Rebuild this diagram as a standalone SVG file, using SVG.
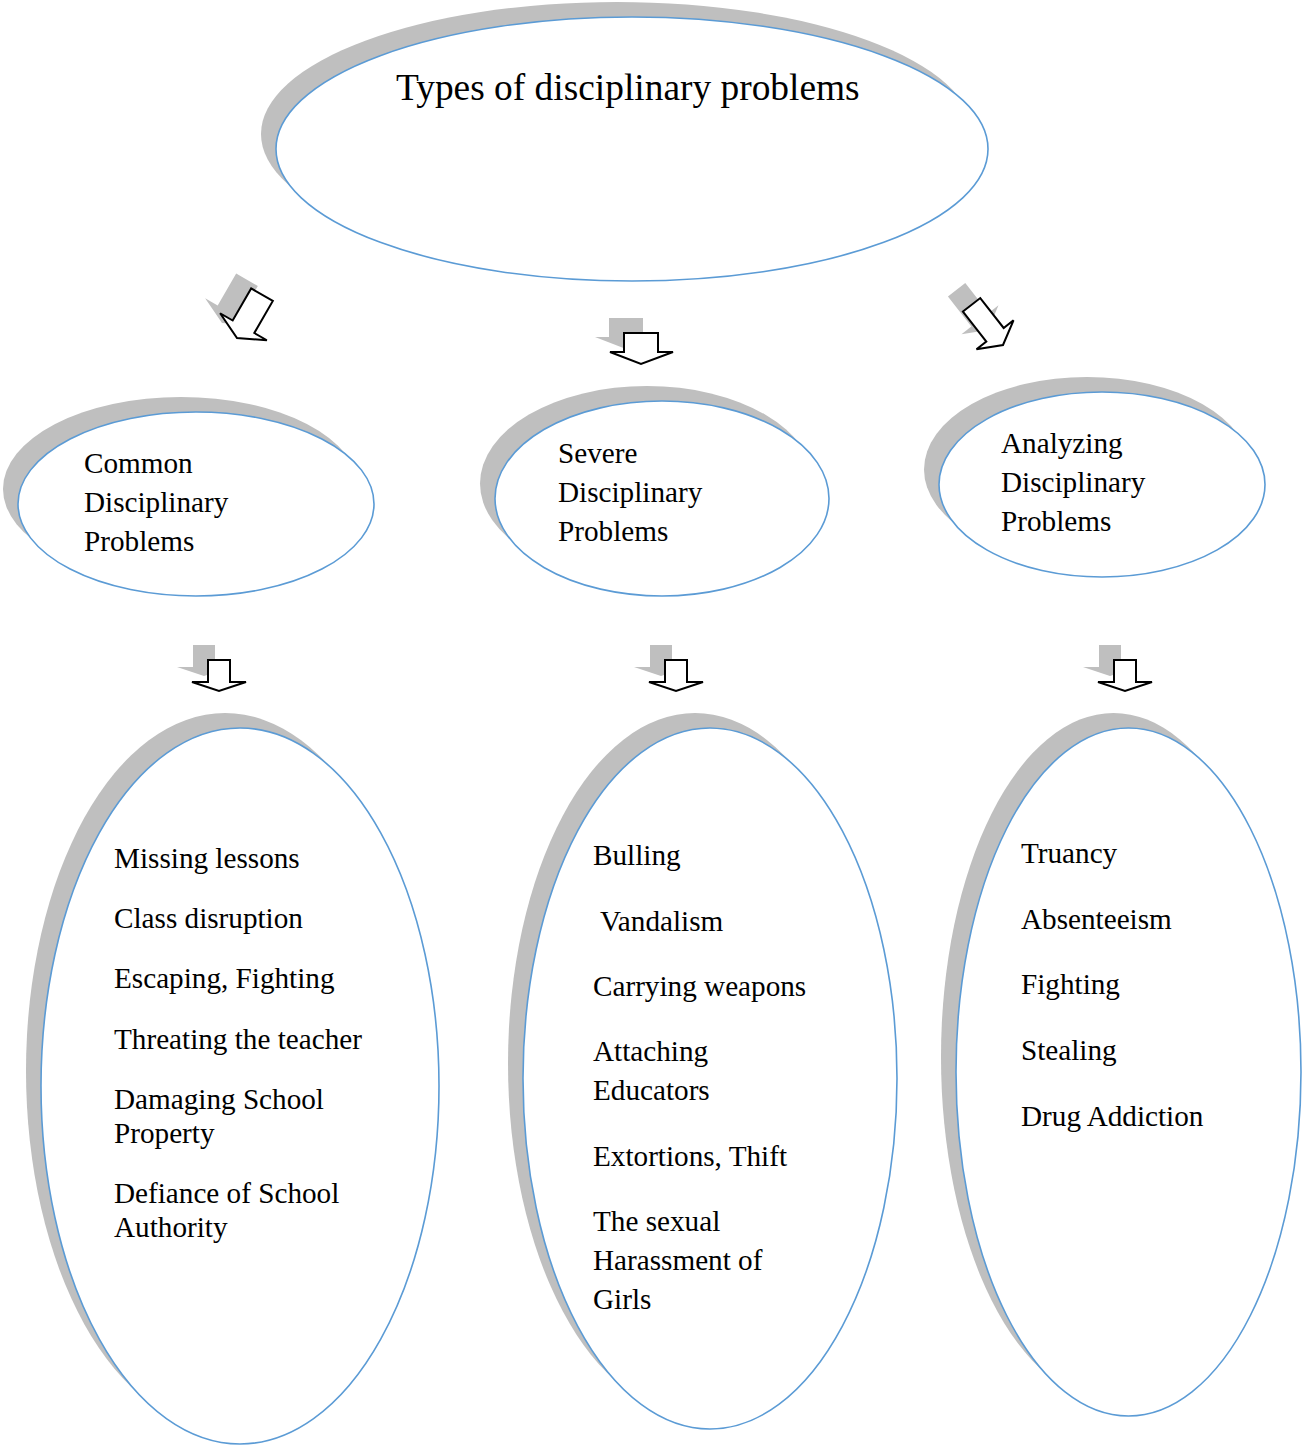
<svg xmlns="http://www.w3.org/2000/svg" width="1302" height="1445" viewBox="0 0 1302 1445">
<style>
.sh{fill:#BFBFBF;stroke:none}
.el{fill:#FFFFFF;stroke:#5B9BD5;stroke-width:1.6}
.ash{fill:#BFBFBF;stroke:none}
.ar{fill:#FFFFFF;stroke:#000000;stroke-width:2;stroke-linejoin:miter}
text{font-family:"Liberation Serif","Times New Roman",serif;fill:#000000}
.t1{font-size:37.4px}
.t2{font-size:29.2px}
</style>
<defs>
<polygon id="ad" points="-17,-31 17,-31 17,-12 32,-12 0,0 -31,-12 -17,-12"/>
<polygon id="ab" points="-11,-31 11,-31 11,-9 27,-9 0,0 -27,-9 -11,-9"/>
<polygon id="al" points="-12.5,-50 12.5,-50 12.5,-13 27,-13 0,0 -27,-13 -12.5,-13"/>
<polygon id="ar" points="-11,-51 11,-51 11,-13 23.5,-13 0,0 -23.5,-13 -11,-13"/>
</defs>

<g id="root">
<ellipse class="sh" cx="617" cy="134" rx="356" ry="132"/>
<ellipse class="el" cx="632" cy="149" rx="356" ry="132"/>
<text class="t1" x="396" y="100">Types of disciplinary problems</text>
</g>

<g id="common">
<ellipse class="sh" cx="181" cy="489" rx="178" ry="92"/>
<ellipse class="el" cx="196" cy="504" rx="178" ry="92"/>
<text class="t2" x="84" y="473">Common</text>
<text class="t2" x="84" y="512">Disciplinary</text>
<text class="t2" x="84" y="551">Problems</text>
</g>

<g id="severe">
<ellipse class="sh" cx="647" cy="483.5" rx="167" ry="97.5"/>
<ellipse class="el" cx="662" cy="498.5" rx="167" ry="97.5"/>
<text class="t2" x="558" y="463">Severe</text>
<text class="t2" x="558" y="502">Disciplinary</text>
<text class="t2" x="558" y="541">Problems</text>
</g>

<g id="analyzing">
<ellipse class="sh" cx="1087" cy="469.5" rx="163" ry="92.5"/>
<ellipse class="el" cx="1102" cy="484.5" rx="163" ry="92.5"/>
<text class="t2" x="1001" y="453">Analyzing</text>
<text class="t2" x="1001" y="492">Disciplinary</text>
<text class="t2" x="1001" y="531">Problems</text>
</g>

<g id="common-list">
<ellipse class="sh" cx="225" cy="1071" rx="199" ry="358"/>
<ellipse class="el" cx="240" cy="1086" rx="199" ry="358"/>
<text class="t2" x="114" y="868">Missing lessons</text>
<text class="t2" x="114" y="928">Class disruption</text>
<text class="t2" x="114" y="988">Escaping, Fighting</text>
<text class="t2" x="114" y="1049">Threating the teacher</text>
<text class="t2" x="114" y="1109">Damaging School</text>
<text class="t2" x="114" y="1143">Property</text>
<text class="t2" x="114" y="1203">Defiance of School</text>
<text class="t2" x="114" y="1237">Authority</text>
</g>

<g id="severe-list">
<ellipse class="sh" cx="695" cy="1063.5" rx="187" ry="350.5"/>
<ellipse class="el" cx="710" cy="1078.5" rx="187" ry="350.5"/>
<text class="t2" x="593" y="865">Bulling</text>
<text class="t2" x="600" y="931">Vandalism</text>
<text class="t2" x="593" y="996">Carrying weapons</text>
<text class="t2" x="593" y="1061">Attaching</text>
<text class="t2" x="593" y="1100">Educators</text>
<text class="t2" x="593" y="1166">Extortions, Thift</text>
<text class="t2" x="593" y="1231">The sexual</text>
<text class="t2" x="593" y="1270">Harassment of</text>
<text class="t2" x="593" y="1309">Girls</text>
</g>

<g id="analyzing-list">
<ellipse class="sh" cx="1113.5" cy="1057" rx="172.5" ry="344"/>
<ellipse class="el" cx="1128.5" cy="1072" rx="172.5" ry="344"/>
<text class="t2" x="1021" y="863">Truancy</text>
<text class="t2" x="1021" y="929">Absenteeism</text>
<text class="t2" x="1021" y="994">Fighting</text>
<text class="t2" x="1021" y="1060">Stealing</text>
<text class="t2" x="1021" y="1126">Drug Addiction</text>
</g>

<g id="connectors">
<g transform="translate(222,323) rotate(30)"><use href="#al" class="ash"/></g>
<g transform="translate(237,338) rotate(30)"><use href="#al" class="ar"/></g>
<g transform="translate(626,349)"><use href="#ad" class="ash"/></g>
<g transform="translate(641,364)"><use href="#ad" class="ar"/></g>
<g transform="translate(988,330) rotate(-38)"><use href="#ar" class="ash"/></g>
<g transform="translate(1003,345) rotate(-38)"><use href="#ar" class="ar"/></g>
<g transform="translate(204,676)"><use href="#ab" class="ash"/></g>
<g transform="translate(219,691)"><use href="#ab" class="ar"/></g>
<g transform="translate(661,676)"><use href="#ab" class="ash"/></g>
<g transform="translate(676,691)"><use href="#ab" class="ar"/></g>
<g transform="translate(1110,676)"><use href="#ab" class="ash"/></g>
<g transform="translate(1125,691)"><use href="#ab" class="ar"/></g>
</g>
</svg>
